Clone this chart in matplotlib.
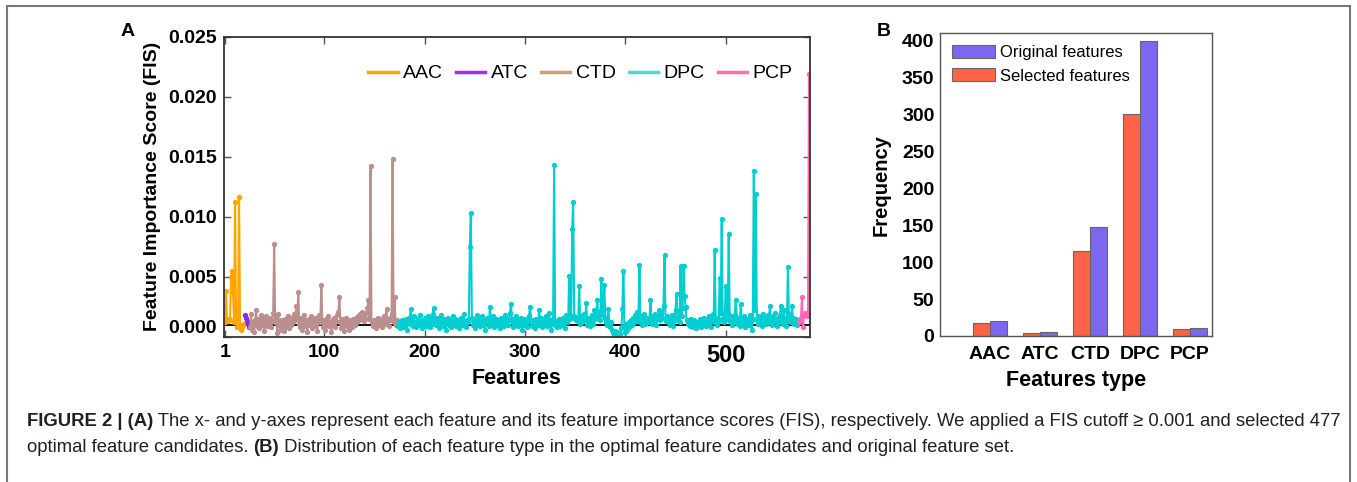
import numpy as np
import matplotlib
matplotlib.use("Agg")
import matplotlib.pyplot as plt
from matplotlib.lines import Line2D
from matplotlib.patches import Rectangle

plt.rcParams['font.family'] = ['Liberation Sans', 'DejaVu Sans']

# Panel A: feature importance scores, in units of 1e-4
AAC = [12, 38, 14, 13, 15, 14, 50, 55, 37, 12, 112, 16, 8, 10, 116, 10, 6, 8, 10, 11]
ATC = [18, 16, 13, 11, 8]
CTD = [8, 19, 6, 12, 4, 14, 22, 9, 15, 7, 13, 18, 10, 16, 5, 12, 17, 9, 14, 11,
       16, 8, 13, 20, 77, 12, 18, 3, 19, 10, 6, 14, 9, 12, 5, 15, 8, 11, 17, 7,
       13, 10, 16, 12, 19, 14, 26, 15, 37, 11, 8, 16, 6, 13, 18, 9, 14, 4, 12, 15,
       10, 17, 7, 13, 9, 16, 11, 5, 14, 18, 12, 43, 14, 8, 13, 6, 15, 10, 17, 9,
       12, 4, 14, 11, 16, 8, 13, 18, 21, 33, 12, 7, 15, 10, 5, 13, 16, 9, 12, 6,
       14, 11, 8, 15, 13, 10, 16, 12, 17, 14, 19, 15, 21, 18, 13, 16, 20, 24, 31, 15,
       142, 12, 9, 14, 11, 7, 13, 16, 10, 15, 12, 8, 14, 17, 11, 15, 23, 13, 9, 16,
       14, 19, 148, 12, 33, 10, 14]
DPC = [9, 12, 7, 11, 14, 8, 13, 10, 15, 6,
       12, 16, 11, 23, 14, 9, 17, 12, 8, 13,
       15, 10, 18, 12, 7, 14, 11, 16, 9, 13,
       17, 12, 8, 15, 11, 19, 24, 13, 10, 16,
       12, 7, 14, 18, 11, 9, 15, 13, 6, 12,
       16, 10, 14, 8, 13, 17, 11, 15, 9, 12,
       14, 7, 13, 16, 10, 12, 19, 11, 8, 14,
       12, 15, 75, 103, 16, 10, 13, 7, 14, 18,
       11, 15, 9, 13, 17, 10, 14, 6, 12, 16,
       13, 9, 25, 14, 11, 17, 8, 13, 15, 10,
       14, 12, 7, 16, 11, 13, 9, 18, 12, 15,
       10, 14, 20, 27, 13, 8, 15, 11, 17, 12,
       9, 14, 12, 16, 6, 13, 10, 15, 11, 8,
       13, 17, 25, 12, 9, 14, 11, 7, 15, 12,
       10, 22, 13, 16, 8, 14, 11, 12, 17, 9,
       14, 20, 12, 6, 11, 15, 143, 10, 13, 8,
       12, 15, 9, 14, 11, 16, 13, 7, 18, 12,
       14, 51, 18, 16, 90, 112, 17, 15, 14, 16,
       13, 42, 11, 17, 12, 15, 19, 14, 28, 10,
       12, 16, 9, 14, 18, 11, 22, 15, 19, 31,
       17, 21, 14, 48, 25, 18, 43, 16, 12, 10,
       23, 11, 8, 12, 6, 3, 2, 5, 1, 4,
       0, 3, 2, 7, 23, 55, 9, 4, 11, 6,
       7, 12, 9, 14, 10, 16, 12, 18, 13, 21,
       15, 60, 12, 17, 10, 14, 19, 11, 13, 16,
       12, 14, 31, 15, 11, 17, 13, 19, 10, 15,
       18, 22, 14, 20, 16, 26, 68, 13, 17, 12,
       15, 10, 14, 18, 9, 13, 16, 22, 36, 14,
       19, 12, 59, 17, 24, 59, 34, 25, 14, 11,
       13, 9, 15, 12, 8, 14, 10, 7, 12, 9,
       11, 15, 8, 13, 10, 16, 12, 9, 14, 11,
       17, 13, 8, 15, 19, 12, 72, 14, 10, 16,
       13, 49, 20, 98, 15, 12, 14, 42, 16, 19,
       86, 13, 17, 10, 15, 12, 18, 31, 14, 11,
       16, 9, 27, 13, 11, 17, 8, 14, 12, 15,
       10, 18, 13, 6, 15, 138, 22, 119, 14, 11,
       17, 12, 15, 9, 19, 13, 16, 11, 14, 18,
       12, 26, 15, 10, 17, 13, 20, 14, 9, 16,
       12, 18, 26, 14, 11, 22, 15, 9, 13, 58,
       14, 19, 12, 26, 16, 11, 13, 15, 10, 12]
PCP = [12, 14, 16, 33, 8, 18, 20, 19, 17, 20, 219]

groups = ['AAC', 'ATC', 'CTD', 'DPC', 'PCP']
line_colors = ['#ffa500', '#8a2be2', '#bc8f8f', '#00ced1', '#ff69b4']
legend_colors = ['#ffa500', '#9b30ff', '#c8a07a', '#40e0d0', '#ff6ea8']
cutoff = 0.001

# Panel B: counts per feature type
types = ['AAC', 'ATC', 'CTD', 'DPC', 'PCP']
original = [20, 5, 147, 400, 11]
selected = [17, 4, 115, 301, 10]

fig = plt.figure(figsize=(13.57, 4.82), dpi=100)
W, H = 1357, 482

# ---- panel A ----
ax = fig.add_axes([224 / W, 1 - 336.7 / H, 586 / W, 300 / H])
start = 1
for vals, col in zip([AAC, ATC, CTD, DPC, PCP], line_colors):
    x = np.arange(start, start + len(vals))
    ax.plot(x, np.array(vals) * 1e-4, color=col, lw=1.5, marker='o', ms=2.8)
    start += len(vals)
ax.axhline(cutoff, color='black', lw=1.3, zorder=1)

ax.set_xlim(0, 584)
ax.set_ylim(0, 0.025)
ax.set_xticks([1, 100, 200, 300, 400, 500], ['1', '100', '200', '300', '400', '500'])
ax.set_yticks(np.arange(0, 0.0251, 0.005), ['0.000', '0.005', '0.010', '0.015', '0.020', '0.025'])
ax.tick_params(direction='in', top=True, right=True, length=5, width=1, color='#555555')
ax.tick_params(axis='both', labelsize=14)
ax.tick_params(axis='x', pad=5)
ax.tick_params(axis='y', pad=5)
for lbl in ax.get_xticklabels() + ax.get_yticklabels():
    lbl.set_fontweight('bold')
for lbl in ax.get_xticklabels():
    if lbl.get_text() == '500':
        lbl.set_fontsize(17)
ax.yaxis.get_major_ticks()[0].label1.set_verticalalignment('bottom')
for sp in ax.spines.values():
    sp.set_color('#333333')
    sp.set_linewidth(1.3)
ax.set_xlabel('Features', fontsize=15.5, fontweight='bold', labelpad=1)
ax.set_ylabel('Feature Importance Score (FIS)', fontsize=14, fontweight='bold', labelpad=5)

handles = [Line2D([0], [0], color=c, lw=2.5) for c in legend_colors]
ax.legend(handles, groups, loc='upper right', ncol=5, frameon=False, fontsize=14,
          handlelength=1.5, handletextpad=0.3, columnspacing=0.65,
          bbox_to_anchor=(1.0, 0.965))

# ---- panel B ----
bx = fig.add_axes([940 / W, 1 - 336 / H, 272 / W, 302.7 / H])
pos = np.arange(1, len(types) + 1)
bw = 0.34
bx.bar(pos - bw / 2, selected, bw, color='#ff6347', edgecolor='#666666', lw=0.8,
       label='Selected features')
bx.bar(pos + bw / 2, original, bw, color='#7b68ee', edgecolor='#666666', lw=0.8,
       label='Original features')
bx.set_xlim(0, 5.44)
bx.set_ylim(0, 410)
bx.set_xticks(pos, types)
bx.set_yticks(np.arange(0, 401, 50))
bx.tick_params(length=0, labelsize=14)
bx.tick_params(axis='x', pad=7)
bx.tick_params(axis='y', pad=4)
for lbl in bx.get_xticklabels() + bx.get_yticklabels():
    lbl.set_fontweight('bold')
for sp in bx.spines.values():
    sp.set_color('#555555')
    sp.set_linewidth(1.0)
bx.set_xlabel('Features type', fontsize=15.5, fontweight='bold', labelpad=5)
bx.set_ylabel('Frequency', fontsize=14.5, fontweight='bold', labelpad=8)
h, l = bx.get_legend_handles_labels()
bx.legend(h[::-1], l[::-1], loc='upper left', frameon=False, fontsize=12,
          handlelength=2.6, handleheight=0.8, handletextpad=0.3, labelspacing=0.5,
          borderaxespad=0.3)

# panel letters
fig.text(128 / W, 1 - 32 / H, 'A', fontsize=14, fontweight='bold', ha='center', va='center')
fig.text(884 / W, 1 - 32 / H, 'B', fontsize=14, fontweight='bold', ha='center', va='center')

# frame around the figure
fig.patches.append(Rectangle((7 / W, -0.1), (1350 - 7) / W, 0.1 + 1 - 6 / H,
                             transform=fig.transFigure, fill=False, ec='#777777', lw=1.5))

# caption with bold parts
renderer = fig.canvas.get_renderer()


def rich_line(x, y, parts):
    for s, wt in parts:
        t = fig.text(x, y, s, fontsize=13.35, fontweight=wt,
                     color='#231f20', va='center', ha='left')
        x += t.get_window_extent(renderer).width / fig.bbox.width


rich_line(27 / W, 1 - 421 / H, [
    ('FIGURE 2 | (A)', 'bold'),
    (' The x- and y-axes represent each feature and its feature importance scores (FIS), '
     'respectively. We applied a FIS cutoff \u2265 0.001 and selected 477', 'normal')])
rich_line(27 / W, 1 - 447 / H, [
    ('optimal feature candidates. ', 'normal'),
    ('(B)', 'bold'),
    (' Distribution of each feature type in the optimal feature candidates and original feature set.',
     'normal')])

fig.savefig('out.png', dpi=100)
